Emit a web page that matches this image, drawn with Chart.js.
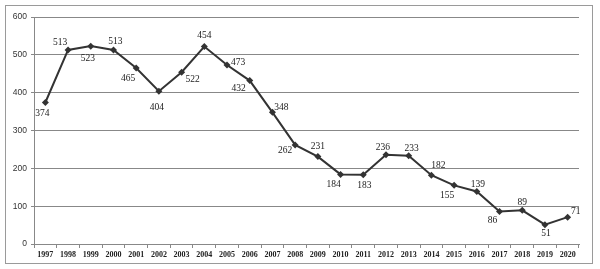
<!DOCTYPE html>
<html>
<head>
<meta charset="utf-8">
<style>
  html, body { margin: 0; padding: 0; background: #fff; }
  #wrap { width: 600px; height: 269px; position: relative; }
</style>
<script src="https://cdn.jsdelivr.net/npm/chart.js@4/dist/chart.umd.min.js"></script>
</head>
<body>
<div id="wrap"><canvas id="chart" width="600" height="269"></canvas></div>
<script>
// ── Data ──
const years = ['1997','1998','1999','2000','2001','2002','2003','2004','2005','2006','2007','2008',
               '2009','2010','2011','2012','2013','2014','2015','2016','2017','2018','2019','2020'];
const counts = [374, 513, 523, 513, 465, 404, 454, 522, 473, 432, 348, 262,
                231, 184, 183, 236, 233, 182, 155, 139, 86, 89, 51, 71];
// text printed next to each point, as it appears on the original
const pointText = ['374','513','523','513','465','404','522','454','473','432','348','262',
                   '231','184','183','236','233','182','155','139','86','89','51','71'];
const yTicks = [0, 100, 200, 300, 400, 500, 600];

// label offsets from the marker (px)
const labelOffset = [[-3,11],[-8,-7],[-3,12],[2,-8],[-8,10],[-2,16],[11,7],[0,-11],[11,-3],[-11,8],[9,-5],[-10,6],
                     [0,-10],[-7,10],[1,11],[-3,-7],[3,-7],[7,-10],[-7,10],[1,-7],[-7,9],[0,-8],[1,9],[8,-6]];

const $ = id => document.getElementById(id);

// ── Plugins ──
const frame = {
  id: 'frame',
  beforeDraw(chart) {
    const c = chart.ctx;
    c.save();
    c.strokeStyle = '#9a9a9a';
    c.lineWidth = 1;
    c.strokeRect(5.5, 5.5, 587, 258);
    c.restore();
  }
};

const pointLabels = {
  id: 'pointLabels',
  afterDatasetsDraw(chart) {
    const c = chart.ctx;
    const meta = chart.getDatasetMeta(0);
    c.save();
    c.font = '9.5px "Liberation Serif", serif';
    c.fillStyle = '#222';
    c.textAlign = 'center';
    c.textBaseline = 'middle';
    meta.data.forEach((pt, i) => {
      const [dx, dy] = labelOffset[i];
      c.fillText(pointText[i], pt.x + dx, pt.y + dy);
    });
    c.restore();
  }
};

new Chart($('chart'), {
  type: 'line',
  data: {
    labels: years,
    datasets: [{
      data: counts,
      borderColor: '#333',
      borderWidth: 2,
      pointStyle: 'rectRot',
      pointRadius: 3.5,
      pointBackgroundColor: '#333',
      pointBorderColor: '#333',
      pointBorderWidth: 0,
      tension: 0,
      clip: false
    }]
  },
  options: {
    responsive: false,
    animation: false,
    events: [],
    layout: { padding: { left: 0, right: 21, top: 17, bottom: 5 } },
    plugins: { legend: { display: false }, tooltip: { enabled: false } },
    scales: {
      x: {
        offset: true,
        grid: { offset: true, drawOnChartArea: false, color: '#888', tickLength: 4 },
        border: { color: '#888', width: 1 },
        ticks: {
          color: '#222',
          padding: 2,
          maxRotation: 0,
          autoSkip: false,
          font: { family: '"Liberation Serif", serif', size: 8, weight: 'bold' }
        },
        afterFit: s => { s.height = 20; }
      },
      y: {
        min: 0,
        max: 600,
        afterBuildTicks: s => { s.ticks = yTicks.map(v => ({ value: v })); },
        grid: { color: '#888', tickLength: 3 },
        border: { color: '#888', width: 1 },
        ticks: {
          color: '#333',
          padding: 4,
          font: { family: '"Liberation Sans", sans-serif', size: 8.5 }
        },
        afterFit: s => { s.width = 34; }
      }
    }
  },
  plugins: [frame, pointLabels]
});
</script>
</body>
</html>
